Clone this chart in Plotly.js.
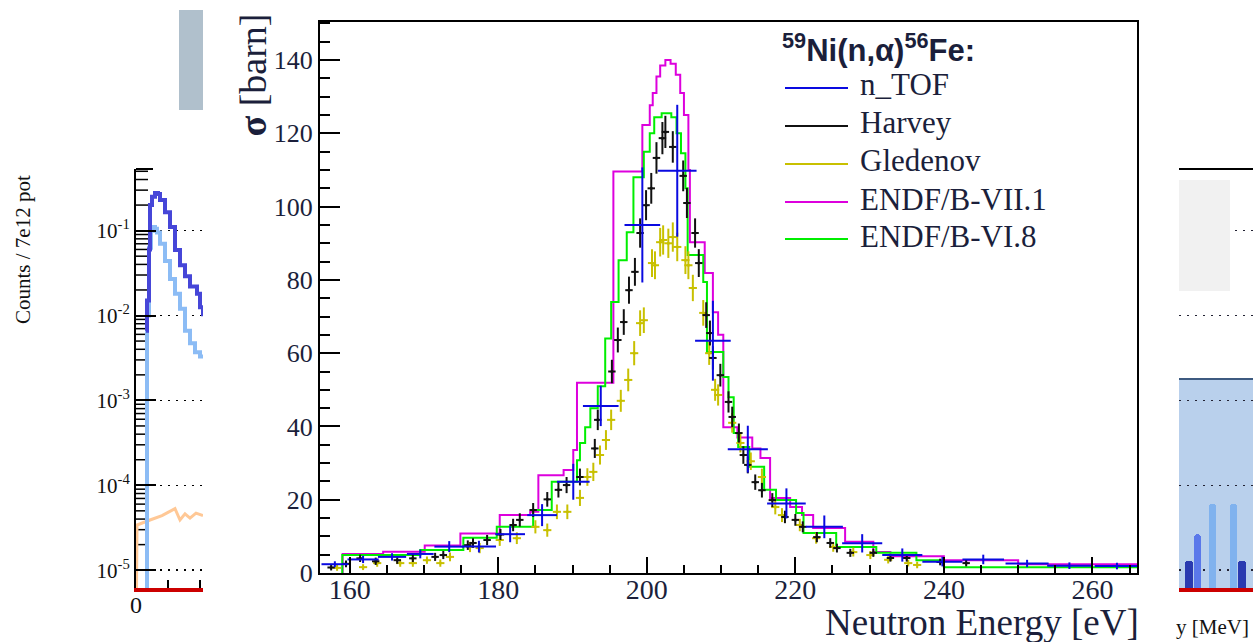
<!DOCTYPE html>
<html><head><meta charset="utf-8">
<script src="https://cdn.plot.ly/plotly-3.0.1.min.js"></script>
<style>html,body{margin:0;padding:0;background:#fff;}#plot{width:1253px;height:642px;}</style>
</head><body><div id="plot"></div>
<script>
// ---------- main chart data: 59Ni(n,alpha)56Fe ----------
var nTOF_E  = [158.0,161.8,165.7,169.5,173.4,177.4,181.6,185.9,190.1,193.8,199.4,204.1,208.9,213.6,218.8,223.9,229.0,234.4,239.8,245.3,251.2,256.9,263.3];
var nTOF_dE = [1.8,2.1,1.9,1.8,2.0,2.3,2.0,2.0,2.2,2.4,2.4,2.6,2.4,2.7,2.6,2.5,2.7,2.7,2.7,2.8,2.9,3.0,3.0];
var nTOF_S  = [2.4,3.7,4.4,5.2,7.2,7.2,10.6,15.8,24.9,45.6,95.0,109.8,63.4,33.8,19.0,12.6,8.1,4.9,3.1,3.7,2.6,2.0,1.9];
var nTOF_dS = [0.8,1.0,1.0,1.2,1.5,1.6,2.2,3.0,4.9,5.5,15.7,18.0,10.9,6.4,4.1,3.1,2.5,1.8,1.3,1.3,1.0,0.9,0.9];

var harvey_E = [157.5,159.5,161.4,163.5,166.4,168.5,171.5,172.6,175.9,176.6,178.5,180.3,182.0,182.9,184.7,186.6,188.1,189.2,191.0,193.0,193.4,195.3,196.1,196.9,197.6,198.4,199.1,199.9,200.6,201.3,202.1,202.5,203.5,204.9,205.4,206.5,207.0,208.0,208.5,208.9,209.9,211.0,211.5,212.4,213.0,213.6,214.6,215.5,216.9,218.6,220.0,221.0,222.9,224.7,225.6,227.4,230.5,232.8,235.0,239.5,243.0];
var harvey_S = [1.5,2.5,4.0,3.2,3.5,4.0,4.4,4.9,7.6,8.2,9.0,10.5,13.1,14.5,17.2,20.1,22.7,24.0,26.2,34.0,41.8,55,63.6,68.5,77.2,82.2,92.8,100.4,105,113.3,118.7,120.4,116.3,108.4,101,92.8,84.6,70.4,65.5,58.7,54,46.7,42.6,38.2,32.2,29.5,24.8,22.6,19.9,15.3,14.5,12.6,9.8,8.2,6.8,5.5,5.5,4.1,4.1,3.0,2.7];
var harvey_dS = [0.8,0.9,1,1,1,1,1.1,1.1,1.3,1.3,1.4,1.5,1.7,1.8,1.9,2,2.1,2.2,2.3,2.6,2.8,3.2,3.4,3.5,3.7,3.8,4,4.1,4.2,4.3,4.4,4.4,4.3,4.2,4.1,4,3.8,3.5,3.4,3.2,3.1,2.9,2.8,2.6,2.4,2.3,2.1,2,1.9,1.7,1.6,1.5,1.4,1.3,1.2,1.1,1.1,1,1,0.9,0.9];

var gled_E = [158.3,161.8,163.7,166.8,168.5,170.4,172.2,173.5,176.2,177.5,180.2,182.5,185.0,186.6,187.9,189.3,191.0,192.0,192.8,193.7,194.5,195.2,196.5,197.5,198.3,199.1,199.6,200.7,201.1,201.8,202.2,202.9,203.5,204.1,205.2,205.6,206.2,207.6,208.4,209.2,209.6,211.5,212.6,214.0,215.5,217.3,218.2,220.6,222.8,225.1,227.8,230.1,232.5,235.2,236.4];
var gled_S = [1.4,1.6,2.7,2.7,2.7,3.5,2.7,4.4,7.1,6.8,9.0,9.5,12.6,11.7,16.7,16.7,20.5,26.2,27.6,32.2,36.3,41.8,47,52.7,60,68.2,69.0,84.6,84.0,90.3,90.9,90.0,91.7,89.0,85.4,84.0,77.8,71.0,60,50.0,48.6,41.0,35.5,30.5,26.2,18.0,15.8,13.1,9.5,7.1,5.7,4.9,3.6,2.7,2.2];
var gled_dS = [0.8,0.8,1,1,1,1,1,1.2,1.4,1.4,1.6,1.6,1.8,1.8,2,2,2.2,2.4,2.5,2.6,2.7,2.8,3,3.1,3.3,3.5,3.5,3.8,3.8,3.9,4,4,4,3.9,3.8,3.8,3.6,3.5,3.2,3,2.9,2.7,2.6,2.4,2.3,2,1.9,1.7,1.5,1.3,1.2,1.1,1,0.9,0.9];

// evaluated libraries: bin edges (n+1) and cross sections (n)
var vii1_E = [159.05,164.5,170.1,174.9,180.2,184.3,185.4,188.8,190.1,190.6,195.5,199.4,200.4,200.8,201.3,201.8,202.5,203.2,203.9,204.5,205.0,205.6,205.8,207.8,208.9,209.6,210.3,212.2,214.2,215.3,216.6,219.3,220.9,222.4,226.7,230.5,232.8,240.0,250.0,266.0];
var vii1_S = [5.2,5.8,7.5,10.8,15.8,16.7,26.7,28.1,33.6,51.9,109.6,122.3,127.7,131,135.5,138.5,140,139,136,131,125,110,90.3,81.9,71.2,65,39.8,37,34,31.4,20.5,18,15.8,12.3,8.5,5.7,4.6,3.5,2.4];
var vi8_E = [159.0,169.5,175.3,179.8,184.7,187.2,190.6,191.0,191.7,192.4,193.4,194.4,195.2,196.2,197.3,198.2,199.6,200.4,201.0,202.0,203.3,204.0,204.6,205.2,205.5,207.6,208.1,210.3,211.0,211.7,212.3,213.8,215.8,217.4,220.1,221.1,225.5,230.9,236.3,240.0,266.0];
var vi8_S = [4.9,6.3,9.6,12.6,17.2,24.9,30.8,35.5,39.8,45.0,51,64,74,85.4,93,108,115,120,124.4,125.5,124.4,120,114.6,105,86.8,79.4,60.3,53.5,48,38.2,34.4,29,22.7,19.9,16.4,10.9,7.1,5.5,3.5,1.6];

var xTicks = [160,180,200,220,240,260];
var yTicks = [0,20,40,60,80,100,120,140];
var legendNames = ["n_TOF","Harvey","Gledenov","ENDF/B-VII.1","ENDF/B-VI.8"];

// ---------- background (partly hidden) spectrum plot ----------
var peach_x = [0.0,0.1,1.4,2.6,3.2,3.9,4.4,4.9,5.4,6.0,6.7];
var peach_y = [1e-6,3.4e-5,3.9e-5,4.4e-5,4.8e-5,5.3e-5,3.9e-5,4.6e-5,4.1e-5,4.7e-5,4.4e-5];
var lblue_x = [1.1,1.1,1.3,1.5,1.7,1.9,2.1,2.4,2.9,3.4,3.9,4.4,4.9,5.4,5.9,6.4,6.7];
var lblue_y = [1e-6,0.01,0.063,0.1,0.11,0.105,0.095,0.07,0.044,0.027,0.018,0.012,0.0066,0.0047,0.0037,0.0033,0.0033];
var dblue_x = [1.0,1.1,1.3,1.4,1.6,1.9,2.2,2.4,2.9,3.4,3.9,4.4,4.9,5.4,6.1,6.4,6.7];
var dblue_y = [0.0066,0.015,0.06,0.2,0.25,0.277,0.27,0.23,0.165,0.11,0.059,0.039,0.029,0.022,0.018,0.0125,0.0098];
var barDark_x = [1.0,6.3], barDark_y = [1.28e-5,1.28e-5];
var barMid_x = [1.85], barMid_y = [2.65e-5];
var barLight_x = [3.35,5.45], barLight_y = [6.1e-5,6.1e-5];
var logTickVals = [1e-5,1e-4,1e-3,1e-2,1e-1];
var logTickText = ["10<sup>-5</sup>","10<sup>-4</sup>","10<sup>-3</sup>","10<sup>-2</sup>","10<sup>-1</sup>"];

// ---------- helpers ----------
var W = 1253, H = 642;
function X(px){return px/W;}
function Y(py){return 1-py/H;}
function stepTrace(E,S,color,name){
  return {x:[E[0]].concat(E), y:[0].concat(S).concat([S[S.length-1]]), type:'scatter', mode:'lines',
    line:{shape:'hv',color:color,width:2}, name:name, xaxis:'x', yaxis:'y', hoverinfo:'skip'};
}
// minor tick marks (2..9 per decade) of the background log axis
var minorTickY = [], minorTickX = [];
[-5,-4,-3,-2,-1].forEach(function(p){
  for(var m=2;m<=9;m++){ minorTickY.push(m*Math.pow(10,p)); minorTickX.push(0.5); }
});

var SERIF = 'Liberation Serif, Times New Roman, serif';
var TXT = '#1b1f3b';
var colors = {ntof:'#0a0ae0', harvey:'#111111', gled:'#c8c000', vii1:'#dd00dd', vi8:'#00ee00'};

var traces = [
  // background: left visible portion
  {x:minorTickX, y:minorTickY, xaxis:'x2', yaxis:'y2', type:'scatter', mode:'markers',
   marker:{symbol:'line-ew', size:10, color:'#000', line:{width:1.5, color:'#000'}}, hoverinfo:'skip'},
  {x:peach_x, y:peach_y, xaxis:'x2', yaxis:'y2', type:'scatter', mode:'lines', line:{color:'#ffc896', width:3}, hoverinfo:'skip'},
  {x:lblue_x, y:lblue_y, xaxis:'x2', yaxis:'y2', type:'scatter', mode:'lines', line:{color:'#8cbcf5', width:4, shape:'hv'}, hoverinfo:'skip'},
  {x:dblue_x, y:dblue_y, xaxis:'x2', yaxis:'y2', type:'scatter', mode:'lines', line:{color:'#4646d8', width:4, shape:'hv'}, hoverinfo:'skip'},
  // background: right visible portion
  {x:barDark_x, y:barDark_y, xaxis:'x3', yaxis:'y3', type:'bar', width:0.8, marker:{color:'#2a3ab0', cornerradius:3}, hoverinfo:'skip'},
  {x:barMid_x, y:barMid_y, xaxis:'x3', yaxis:'y3', type:'bar', width:0.65, marker:{color:'#5a78ea', cornerradius:3}, hoverinfo:'skip'},
  {x:barLight_x, y:barLight_y, xaxis:'x3', yaxis:'y3', type:'bar', width:0.65, marker:{color:'#80b2ee', cornerradius:3}, hoverinfo:'skip'},
  // main chart
  stepTrace(vii1_E, vii1_S, colors.vii1, legendNames[3]),
  stepTrace(vi8_E, vi8_S, colors.vi8, legendNames[4]),
  {x:gled_E, y:gled_S, type:'scatter', mode:'markers', name:legendNames[2], marker:{size:3,color:colors.gled},
   error_y:{type:'data', array:gled_dS, color:colors.gled, thickness:2, width:0},
   error_x:{type:'constant', value:0.55, color:colors.gled, thickness:2, width:0}, xaxis:'x', yaxis:'y', hoverinfo:'skip'},
  {x:harvey_E, y:harvey_S, type:'scatter', mode:'markers', name:legendNames[1], marker:{size:3,color:colors.harvey},
   error_y:{type:'data', array:harvey_dS, color:colors.harvey, thickness:2, width:0},
   error_x:{type:'constant', value:0.5, color:colors.harvey, thickness:2, width:0}, xaxis:'x', yaxis:'y', hoverinfo:'skip'},
  {x:nTOF_E, y:nTOF_S, type:'scatter', mode:'markers', name:legendNames[0], marker:{size:2,color:colors.ntof},
   error_y:{type:'data', array:nTOF_dS, color:colors.ntof, thickness:2, width:0},
   error_x:{type:'data', array:nTOF_dE, color:colors.ntof, thickness:2, width:0}, xaxis:'x', yaxis:'y', hoverinfo:'skip'}
];

var layout = {
  width:W, height:H, margin:{l:0,r:0,t:0,b:0}, paper_bgcolor:'#ffffff', plot_bgcolor:'rgba(0,0,0,0)', showlegend:false,
  xaxis:{domain:[X(320),X(1137)], anchor:'y', range:[156,266], tickvals:xTicks, ticktext:xTicks.map(String),
    showline:true, linewidth:2, linecolor:'#000', mirror:true, ticks:'inside', ticklen:16, tickwidth:2, tickcolor:'#000',
    minor:{ticks:'inside', ticklen:8, tickwidth:2, tickcolor:'#000', dtick:5, tick0:0}, showgrid:false, zeroline:false,
    tickfont:{family:SERIF, size:28, color:TXT}, ticklabelstandoff:-10},
  yaxis:{domain:[Y(573),Y(22)], anchor:'x', range:[0,150.4], tickvals:yTicks, ticktext:yTicks.map(String),
    showline:true, linewidth:2, linecolor:'#000', mirror:true, ticks:'inside', ticklen:20, tickwidth:2, tickcolor:'#000',
    minor:{ticks:'inside', ticklen:10, tickwidth:2, tickcolor:'#000', dtick:5, tick0:0}, showgrid:false, zeroline:false,
    tickfont:{family:SERIF, size:26, color:TXT}, ticklabelstandoff:0},
  xaxis2:{domain:[X(136),X(203)], anchor:'y2', range:[0,6.7], tickvals:[0], ticktext:['0'],
    showline:true, linecolor:'#cc0000', linewidth:4, ticks:'inside', ticklen:8, tickwidth:2, tickcolor:'#000',
    minor:{tickmode:'array', tickvals:[3.2,6.4], ticks:'inside', ticklen:8, tickwidth:2, tickcolor:'#000'},
    showgrid:false, zeroline:false, tickfont:{family:SERIF, size:24, color:'#111'}, ticklabelstandoff:-8},
  yaxis2:{domain:[Y(588),Y(169)], anchor:'x2', type:'log', range:[-5.21,-0.274], tickvals:logTickVals, ticktext:logTickText,
    showline:true, linecolor:'#000', linewidth:2, ticks:'inside', ticklen:20, tickwidth:2, tickcolor:'#000',
    showgrid:true, gridcolor:'#000', gridwidth:1.5, griddash:'2px,6px', zeroline:false,
    tickfont:{family:SERIF, size:21, color:'#111'}},
  xaxis3:{domain:[X(1179),1], anchor:'y3', range:[0,7.4], showline:true, linecolor:'#cc0000', linewidth:4,
    ticks:'', showticklabels:false, showgrid:false, zeroline:false},
  yaxis3:{domain:[Y(588),Y(169)], anchor:'x3', type:'log', range:[-5.21,-0.274], showline:false, ticks:'', showticklabels:false,
    showgrid:true, gridcolor:'#223', gridwidth:1.5, griddash:'2px,6px', zeroline:false, tickvals:logTickVals},
  bargap:0,
  shapes:[
    {type:'rect', xref:'paper', yref:'paper', x0:X(179), x1:X(203), y0:Y(110), y1:Y(10), fillcolor:'#b0c0cc', line:{width:0}, layer:'below'},
    {type:'line', xref:'paper', yref:'paper', x0:X(136), x1:X(153), y0:Y(169), y1:Y(169), line:{color:'#000', width:2}, layer:'above'},
    {type:'rect', xref:'paper', yref:'paper', x0:X(1179), x1:1, y0:Y(588), y1:Y(379), fillcolor:'#b9d0ec', line:{width:0}, layer:'below'},
    {type:'line', xref:'paper', yref:'paper', x0:X(1179), x1:1, y0:Y(379), y1:Y(379), line:{color:'#3d5a80', width:2}, layer:'below'},
    {type:'rect', xref:'paper', yref:'paper', x0:X(1179), x1:X(1230), y0:Y(291), y1:Y(180), fillcolor:'#f1f1f1', line:{width:0}, layer:'above'},
    {type:'line', xref:'paper', yref:'paper', x0:X(1179), x1:1, y0:Y(169), y1:Y(169), line:{color:'#000', width:2}, layer:'above'},
    // legend line samples
    {type:'line', xref:'paper', yref:'paper', x0:X(785), x1:X(848), y0:Y(88), y1:Y(88), line:{color:colors.ntof, width:2}},
    {type:'line', xref:'paper', yref:'paper', x0:X(785), x1:X(848), y0:Y(126), y1:Y(126), line:{color:colors.harvey, width:2}},
    {type:'line', xref:'paper', yref:'paper', x0:X(785), x1:X(848), y0:Y(164), y1:Y(164), line:{color:colors.gled, width:2}},
    {type:'line', xref:'paper', yref:'paper', x0:X(785), x1:X(848), y0:Y(202), y1:Y(202), line:{color:colors.vii1, width:2}},
    {type:'line', xref:'paper', yref:'paper', x0:X(785), x1:X(848), y0:Y(239), y1:Y(239), line:{color:colors.vi8, width:2}}
  ],
  annotations:[
    {xref:'paper', yref:'paper', x:X(252), y:Y(12), xanchor:'center', yanchor:'top', textangle:-90, showarrow:false,
     text:'<b>σ</b> [barn]', font:{family:SERIF, size:38, color:TXT}},
    {xref:'paper', yref:'paper', x:X(1141), y:Y(622), xanchor:'right', yanchor:'middle', showarrow:false,
     text:'Neutron Energy [eV]', font:{family:SERIF, size:37, color:TXT}},
    {xref:'paper', yref:'paper', x:X(780), y:Y(48), xanchor:'left', yanchor:'middle', showarrow:false,
     text:'<b><sup>59</sup>Ni(n,α)<sup>56</sup>Fe:</b>', font:{family:'Liberation Sans, Arial, sans-serif', size:31, color:TXT}},
    {xref:'paper', yref:'paper', x:X(858), y:Y(85), xanchor:'left', yanchor:'middle', showarrow:false, text:legendNames[0], font:{family:SERIF, size:31, color:TXT}},
    {xref:'paper', yref:'paper', x:X(858), y:Y(123), xanchor:'left', yanchor:'middle', showarrow:false, text:legendNames[1], font:{family:SERIF, size:31, color:TXT}},
    {xref:'paper', yref:'paper', x:X(858), y:Y(161), xanchor:'left', yanchor:'middle', showarrow:false, text:legendNames[2], font:{family:SERIF, size:31, color:TXT}},
    {xref:'paper', yref:'paper', x:X(858), y:Y(199), xanchor:'left', yanchor:'middle', showarrow:false, text:legendNames[3], font:{family:SERIF, size:31, color:TXT}},
    {xref:'paper', yref:'paper', x:X(858), y:Y(236), xanchor:'left', yanchor:'middle', showarrow:false, text:legendNames[4], font:{family:SERIF, size:31, color:TXT}},
    {xref:'paper', yref:'paper', x:X(23), y:Y(250), xanchor:'center', yanchor:'middle', textangle:-90, showarrow:false,
     text:'Counts / 7e12 pot', font:{family:SERIF, size:21, color:'#111'}},
    {xref:'paper', yref:'paper', x:X(1251), y:Y(627), xanchor:'right', yanchor:'middle', showarrow:false,
     text:'y [MeV]', font:{family:SERIF, size:21, color:'#111'}}
  ]
};
Plotly.newPlot('plot', traces, layout, {displayModeBar:false, staticPlot:true});
</script></body></html>
